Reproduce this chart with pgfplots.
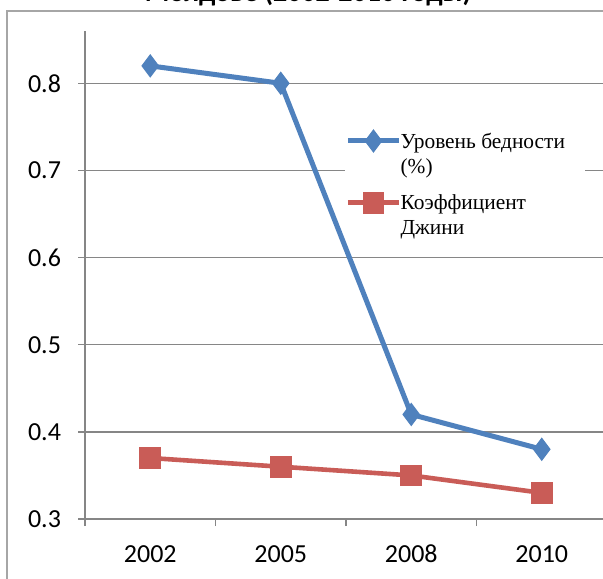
\documentclass[border=0pt]{standalone}
\usepackage{fontspec}
\setmainfont{Liberation Serif}
\newfontfamily\calibri{Carlito}
\usepackage{pgfplots}
\pgfplotsset{compat=1.18}
\definecolor{xlblue}{HTML}{4F81BD}
\definecolor{xlred}{HTML}{C95C57}
\definecolor{xlgrid}{HTML}{868686}
\definecolor{xlframe}{HTML}{A6A6A6}
\begin{document}
\begin{tikzpicture}
\useasboundingbox (0,0) rectangle (301.5pt,289pt);
\clip (0,0) rectangle (301.5pt,289pt);
\fill[white] (0,0) rectangle (301.5pt,289pt);
\draw[xlframe, line width=1pt] (3.5pt,-20pt) rectangle (320pt,283.5pt);
\node[anchor=base, font=\calibri\bfseries\fontsize{14}{16}\selectfont, inner sep=0pt] at (154pt,288pt) {Молдове (2002-2010 годы)};
\begin{axis}[
  at={(42.5pt,29.5pt)}, anchor=south west,
  scale only axis, width=261pt, height=244pt,
  xmin=-0.5, xmax=3.5, ymin=0.3, ymax=0.86,
  axis x line=bottom, axis y line=left,
  axis line style={-, draw=xlgrid, line width=0.75pt},
  xtick={-0.5,0.5,1.5,2.5,3.5},
  x tick label as interval,
  xticklabels={2002,2005,2008,2010},
  ytick={0.3,0.4,0.5,0.6,0.7,0.8},
  yticklabels={0.3,0.4,0.5,0.6,0.7,0.8},
  ymajorgrids, grid style={draw=xlgrid, line width=0.75pt},
  tick align=outside, major tick length=3.5pt,
  tick style={draw=xlgrid, line width=0.75pt},
  ticklabel style={font=\calibri\fontsize{13}{15}\selectfont},
  /pgf/number format/assume math mode=true,
  yticklabel style={xshift=-5pt},
  xticklabel style={anchor=base, yshift=-18pt},
  clip=false,
  legend style={at={(0.498,0.80)}, anchor=north west, draw=none, fill=white,
    font=\fontsize{10.7}{12.5}\selectfont, row sep=19pt, inner sep=0pt,
    cells={anchor=west, inner xsep=1pt}},
  legend image code/.code={\draw[mark repeat=2,mark phase=2] plot coordinates {(0cm,0cm) (0.45cm,0cm) (0.9cm,0cm)};},
]
\addplot[xlblue, line width=2.5pt, mark=diamond*, mark size=5.5pt, mark options={solid, fill=xlblue, draw=xlblue, line width=0.5pt}]
  coordinates {(0,0.82) (1,0.80) (2,0.42) (3,0.38)};
\addlegendentry{\hspace*{-2.5pt}\raisebox{-1.2pt}{\parbox[t]{90pt}{Уровень бедности\\(\%)}}}
\addplot[xlred, line width=2.3pt, mark=square*, mark size=5.2pt, mark options={solid, fill=xlred, draw=xlred, line width=0.5pt}]
  coordinates {(0,0.37) (1,0.36) (2,0.35) (3,0.33)};
\addlegendentry{\hspace*{-2.5pt}\raisebox{-1.2pt}{\parbox[t]{90pt}{Коэффициент\\Джини}}}
\end{axis}
\end{tikzpicture}
\end{document}
